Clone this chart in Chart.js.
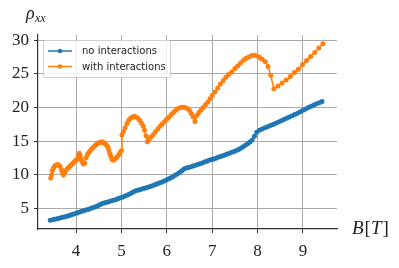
<!DOCTYPE html>
<html>
<head>
<meta charset="utf-8">
<script src="https://cdn.jsdelivr.net/npm/chart.js@4"></script>
<style>
  html, body { margin: 0; padding: 0; background: #fff; }
  canvas { display: block; }
</style>
</head>
<body>
<canvas id="myChart" width="399" height="268"></canvas>
<script>
// B field values and rho_xx
const xNoInt = [3.43,3.48,3.53,3.58,3.63,3.68,3.73,3.78,3.83,3.88,3.93,3.98,4.03,4.08,4.13,4.18,4.23,4.28,4.33,4.38,
  4.43,4.48,4.53,4.58,4.63,4.68,4.73,4.78,4.83,4.88,4.93,4.98,5.03,5.08,5.13,5.18,5.23,5.28,5.33,5.38,
  5.43,5.48,5.53,5.58,5.63,5.68,5.73,5.78,5.83,5.88,5.93,5.98,6.03,6.08,6.13,6.18,6.23,6.28,6.33,6.38,
  6.43,6.48,6.53,6.58,6.63,6.68,6.73,6.78,6.83,6.88,6.93,6.98,7.03,7.08,7.13,7.18,7.23,7.28,7.33,7.38,
  7.43,7.48,7.53,7.58,7.63,7.68,7.73,7.78,7.83,7.88,7.93,7.98,8.04,8.10,8.16,8.22,8.28,8.34,8.40,8.46,
  8.52,8.58,8.64,8.70,8.76,8.82,8.88,8.94,9.00,9.06,9.12,9.18,9.24,9.30,9.36,9.42];
const yNoInt = [3.20,3.28,3.36,3.44,3.52,3.60,3.69,3.78,3.88,3.98,4.09,4.20,4.31,4.42,4.53,4.64,4.75,4.86,4.98,5.10,
  5.23,5.38,5.55,5.70,5.80,5.90,6.00,6.10,6.20,6.31,6.43,6.55,6.68,6.82,6.97,7.13,7.30,7.48,7.62,7.72,
  7.82,7.92,8.02,8.13,8.24,8.36,8.48,8.61,8.74,8.88,9.03,9.18,9.34,9.51,9.69,9.89,10.10,10.33,10.58,10.82,
  10.98,11.08,11.18,11.29,11.40,11.51,11.63,11.75,11.87,12.00,12.13,12.26,12.33,12.45,12.57,12.69,12.81,12.93,13.06,13.19,
  13.32,13.46,13.60,13.76,13.94,14.14,14.36,14.60,14.86,15.15,15.70,16.30,16.62,16.80,16.97,17.14,17.31,17.48,17.66,17.84,
  18.02,18.20,18.38,18.57,18.76,18.96,19.16,19.37,19.58,19.79,20.00,20.20,20.38,20.55,20.72,20.90];

const xWithInt = [3.44,3.46,3.48,3.50,3.53,3.56,3.59,3.62,3.65,3.68,3.70,3.72,3.75,3.78,3.81,3.84,3.87,3.90,3.93,3.96,
  3.99,4.02,4.05,4.07,4.09,4.11,4.13,4.16,4.19,4.22,4.25,4.28,4.31,4.34,4.37,4.40,4.43,4.46,4.49,4.52,
  4.55,4.58,4.61,4.64,4.67,4.70,4.72,4.74,4.76,4.79,4.82,4.85,4.88,4.91,4.94,4.97,5.00,5.01,5.04,5.08,
  5.12,5.16,5.20,5.24,5.28,5.32,5.36,5.40,5.44,5.48,5.51,5.54,5.57,5.61,5.65,5.70,5.75,5.80,5.85,5.90,
  5.95,6.00,6.05,6.10,6.15,6.20,6.25,6.30,6.35,6.40,6.45,6.50,6.54,6.58,6.62,6.66,6.70,6.75,6.80,6.85,
  6.90,6.95,7.00,7.06,7.12,7.18,7.24,7.30,7.36,7.43,7.50,7.56,7.62,7.68,7.74,7.80,7.86,7.92,7.98,8.04,
  8.10,8.17,8.23,8.29,8.36,8.45,8.54,8.63,8.72,8.81,8.90,8.99,9.08,9.17,9.26,9.35,9.44];
const yWithInt = [9.5,10.0,10.6,11.0,11.3,11.45,11.5,11.4,11.2,10.7,10.2,9.95,10.3,10.65,10.9,11.1,11.3,11.5,11.7,11.9,
  12.1,12.3,12.9,13.2,12.8,12.3,11.9,11.6,11.7,12.5,13.0,13.3,13.55,13.8,14.0,14.2,14.4,14.55,14.7,14.8,
  14.85,14.85,14.75,14.6,14.4,14.1,13.7,13.2,12.8,12.3,12.15,12.3,12.5,12.7,12.95,13.3,13.6,15.9,16.4,17.0,
  17.6,18.1,18.4,18.6,18.7,18.6,18.4,18.1,17.7,17.2,16.6,15.8,14.9,15.3,15.6,15.95,16.4,16.8,17.2,17.55,
  17.9,18.3,18.6,18.95,19.3,19.6,19.85,20.0,20.05,20.0,19.85,19.55,19.1,18.6,17.9,18.8,19.2,19.6,20.0,20.4,
  20.8,21.3,21.8,22.3,22.9,23.5,24.0,24.5,24.9,25.3,25.8,26.2,26.6,27.0,27.3,27.5,27.7,27.8,27.7,27.5,
  27.2,26.8,26.1,24.8,22.8,23.2,23.65,24.1,24.6,25.2,25.7,26.4,27.0,27.6,28.2,28.85,29.5];

const xTicks = [4, 5, 6, 7, 8, 9];
const yTicks = [5, 10, 15, 20, 25, 30];

const toPoints = (xs, ys) => xs.map((x, i) => ({ x: x, y: ys[i] }));

const tickFont = { family: 'Liberation Serif', size: 17 };

// legend in the upper left corner plus the two axis labels
const extras = {
  id: 'extras',
  afterDraw(chart) {
    const ctx = chart.ctx;
    ctx.save();
    // legend box
    ctx.fillStyle = 'rgba(255,255,255,0.8)';
    ctx.strokeStyle = '#d0d0d0';
    ctx.lineWidth = 1;
    ctx.beginPath();
    ctx.roundRect(43.5, 40.5, 127, 37, 2);
    ctx.fill();
    ctx.stroke();
    chart.data.datasets.forEach((ds, i) => {
      const y = 51 + i * 15.5;
      ctx.strokeStyle = ds.borderColor;
      ctx.lineWidth = 1.5;
      ctx.beginPath();
      ctx.moveTo(48, y);
      ctx.lineTo(72, y);
      ctx.stroke();
      ctx.fillStyle = ds.borderColor;
      ctx.beginPath();
      ctx.arc(60, y, 2.3, 0, Math.PI * 2);
      ctx.fill();
      ctx.fillStyle = '#222';
      ctx.font = '10px "DejaVu Sans"';
      ctx.textBaseline = 'middle';
      ctx.fillText(ds.label, 82, y + 0.5);
    });
    // y label
    ctx.fillStyle = '#222';
    ctx.textBaseline = 'alphabetic';
    ctx.font = 'italic 18px "Liberation Serif"';
    ctx.fillText('ρ', 26, 19);
    ctx.font = 'italic 12px "Liberation Serif"';
    ctx.fillText('xx', 35, 22);
    // x label
    ctx.font = 'italic 19px "Liberation Serif"';
    ctx.fillText('B', 352, 234);
    let w = 352 + ctx.measureText('B').width + 1;
    ctx.font = '19px "Liberation Serif"';
    ctx.fillText('[', w, 234);
    w += ctx.measureText('[').width;
    ctx.font = 'italic 19px "Liberation Serif"';
    ctx.fillText('T', w, 234);
    w += ctx.measureText('T').width + 1;
    ctx.font = '19px "Liberation Serif"';
    ctx.fillText(']', w, 234);
    ctx.restore();
  }
};

const ctx = document.getElementById('myChart');

const chart = new Chart(ctx, {
  type: 'scatter',
  data: {
    datasets: [{
      label: 'no interactions',
      data: toPoints(xNoInt, yNoInt),
      showLine: true,
      borderColor: '#1f77b4',
      backgroundColor: '#1f77b4',
      borderWidth: 1.5,
      pointRadius: 2.5,
      pointBorderWidth: 0
    }, {
      label: 'with interactions',
      data: toPoints(xWithInt, yWithInt),
      showLine: true,
      borderColor: '#ff7f0e',
      backgroundColor: '#ff7f0e',
      borderWidth: 1.5,
      pointRadius: 2.5,
      pointBorderWidth: 0
    }]
  },
  options: {
    responsive: false,
    animation: false,
    devicePixelRatio: 1,
    layout: { padding: { left: 0, right: 62, top: 35, bottom: 0 } },
    plugins: {
      legend: { display: false },
      tooltip: { enabled: false }
    },
    scales: {
      x: {
        type: 'linear',
        min: 3.16,
        max: 9.75,
        afterBuildTicks: (axis) => { axis.ticks = xTicks.map(v => ({ value: v })); },
        afterFit: (scale) => { scale.height = 39; },
        ticks: { font: tickFont, color: '#222', padding: 8, autoSkip: false, maxRotation: 0 },
        grid: { color: '#aaaaaa', lineWidth: 1, tickColor: '#333', tickLength: 4 },
        border: { color: '#333', width: 1.2 }
      },
      y: {
        type: 'linear',
        min: 1.9,
        max: 30.8,
        afterBuildTicks: (axis) => { axis.ticks = yTicks.map(v => ({ value: v })); },
        afterFit: (scale) => { scale.width = 38; },
        ticks: { font: tickFont, color: '#222', padding: 5, autoSkip: false },
        grid: { color: '#aaaaaa', lineWidth: 1, tickColor: '#333', tickLength: 4 },
        border: { color: '#333', width: 1.2 }
      }
    }
  },
  plugins: [extras]
});
</script>
</body>
</html>
